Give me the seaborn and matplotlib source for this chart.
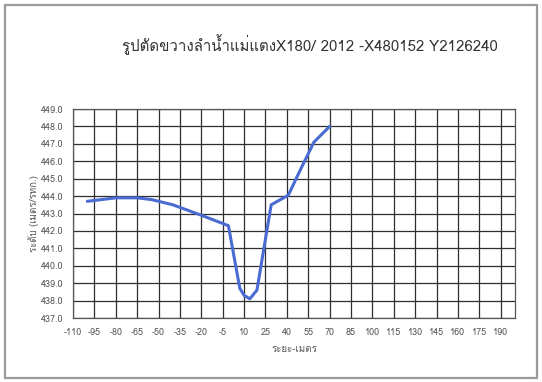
import numpy as np
import matplotlib
matplotlib.use("Agg")
import matplotlib.pyplot as plt
from matplotlib import font_manager
from matplotlib.patches import Rectangle
from matplotlib.ft2font import FT2Font
import seaborn as sns

# cross-section: distance (m) vs bed level (m)
distance = [-100, -80, -65, -55, -40, -20, -1, 7, 10, 14, 19, 29, 41, 50, 59, 70]
level = [443.7, 443.9, 443.9, 443.8, 443.5, 442.9, 442.3, 438.7, 438.3, 438.1, 438.6,
         443.5, 444.05, 445.6, 447.1, 448.0]

x_ticks = list(range(-110, 191, 15))
y_ticks = list(range(437, 450))

title = "รูปตัดขวางลำน้ำแม่แตงX180/ 2012 -X480152 Y2126240"
x_label = "ระยะ-เมตร"
y_label = "ระดับ (เมตร/รทก.)"


def find_thai_family():
    for f in font_manager.fontManager.ttflist:
        try:
            cmap = FT2Font(f.fname).get_charmap()
        except Exception:
            continue
        if 0x0E23 in cmap and 0x0E14 in cmap:
            return f.name
    return None


sns.set_style("white")
thai = find_thai_family()
families = ([thai] if thai else []) + ["DejaVu Sans"]
plt.rcParams['font.family'] = families
plt.rcParams['axes.unicode_minus'] = False

fig = plt.figure(figsize=(5.42, 3.82), dpi=100)
ax = fig.add_axes([73 / 542, 1 - 318 / 382, (515 - 73) / 542, (318 - 109) / 382])

sns.lineplot(x=distance, y=level, ax=ax, color="#4a6bd2", linewidth=2.2)

ax.set_xlim(-110, 200)
ax.set_ylim(437, 449)
ax.set_xticks(x_ticks)
ax.set_yticks(y_ticks)
ax.set_yticklabels([f"{v:.1f}" for v in y_ticks])
ax.grid(True, color="#2e2e2e", linewidth=0.9)
ax.set_axisbelow(True)
ax.tick_params(axis="both", direction="out", length=4, width=0.9, color="#2e2e2e",
               labelsize=6.5, labelcolor="#555555", pad=3)
for s in ax.spines.values():
    s.set_color("#555555")
    s.set_linewidth(0.9)

ax.set_xlabel(x_label, fontsize=7, color="#555555", labelpad=6)
ax.set_ylabel(y_label, fontsize=7, color="#555555", labelpad=1)
fig.text(310 / 542, 1 - 45 / 382, title, ha="center", va="center", fontsize=10.8, color="#333333")

fig.add_artist(Rectangle((5 / 542, 4 / 382), 532 / 542, 373 / 382, transform=fig.transFigure,
                         fill=False, ec="#9a9a9a", lw=1.6))

fig.savefig("out.png", dpi=100)
